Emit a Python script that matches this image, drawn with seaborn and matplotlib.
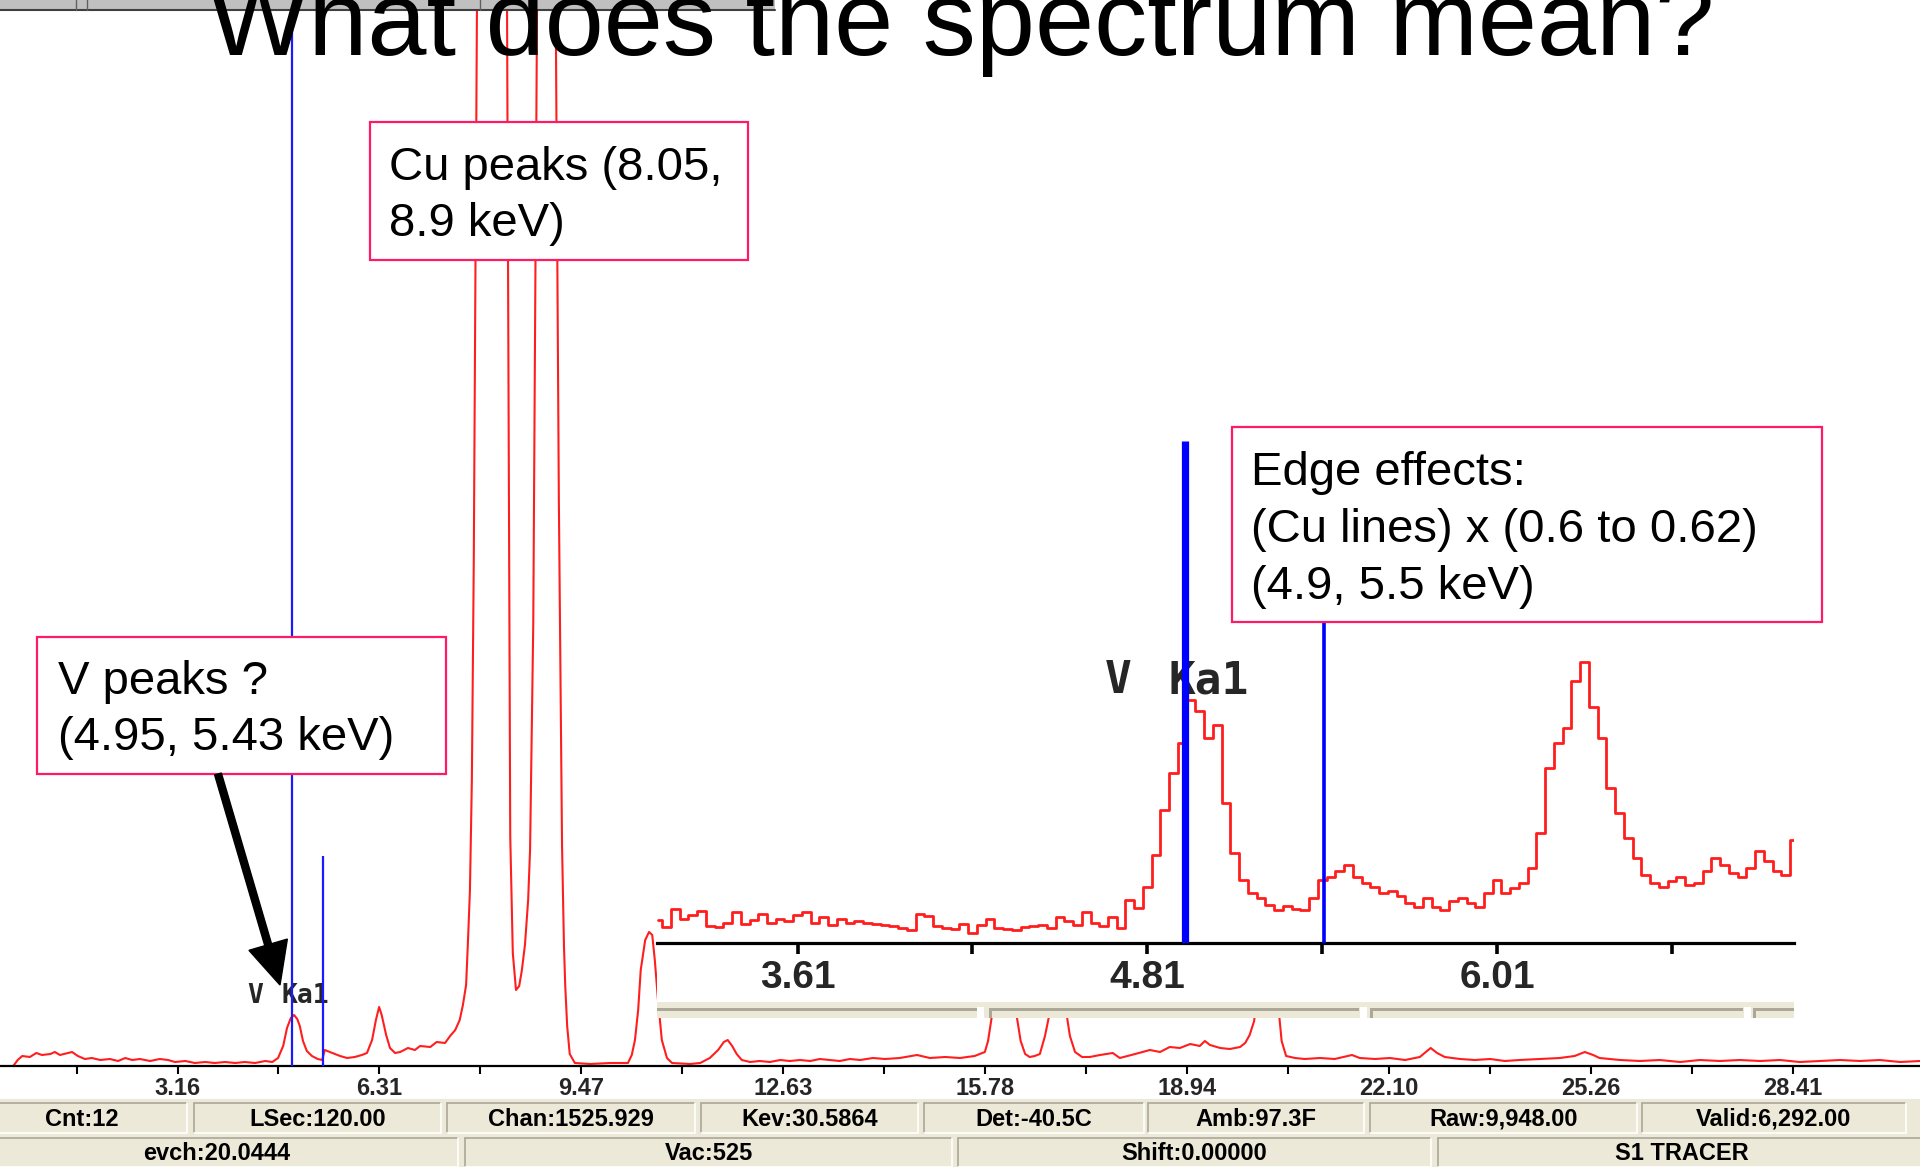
import numpy as np
import matplotlib
matplotlib.use("Agg")
import matplotlib.pyplot as plt
import seaborn as sns
from matplotlib.patches import Rectangle, FancyArrow

# ---------------------------------------------------------------- data
title_text = "What does the spectrum mean?"

# main spectrum (energy in keV, counts in arbitrary units)
main_kev = [
    0.59, 0.66, 0.73, 0.85, 0.95, 1.04, 1.17, 1.24, 1.32, 1.45,
    1.51, 1.60, 1.71, 1.82, 1.95, 2.10, 2.23, 2.34, 2.45, 2.57,
    2.73, 2.88, 3.01, 3.12, 3.28, 3.43, 3.59, 3.74, 3.90, 4.06,
    4.21, 4.37, 4.53, 4.64, 4.73, 4.81, 4.87, 4.93, 4.98, 5.03,
    5.07, 5.12, 5.18, 5.26, 5.35, 5.42, 5.46, 5.54, 5.70, 5.81,
    5.93, 6.04, 6.12, 6.20, 6.26, 6.31, 6.35, 6.42, 6.48, 6.56,
    6.64, 6.76, 6.87, 6.95, 7.11, 7.21, 7.34, 7.42, 7.50, 7.57,
    7.62, 7.67, 7.70, 7.73, 7.76, 7.79, 7.84, 7.89, 7.95, 8.01,
    8.07, 8.14, 8.20, 8.26, 8.31, 8.36, 8.40, 8.45, 8.50, 8.54,
    8.59, 8.64, 8.67, 8.72, 8.78, 8.84, 8.92, 9.00, 9.07, 9.12,
    9.17, 9.20, 9.22, 9.25, 9.29, 9.37, 9.61, 9.92, 10.20, 10.26,
    10.31, 10.36, 10.40, 10.47, 10.53, 10.58, 10.62, 10.67, 10.73, 10.81,
    10.89, 11.17, 11.33, 11.48, 11.61, 11.70, 11.76, 11.83, 11.90, 11.98,
    12.11, 12.26, 12.42, 12.58, 12.73, 12.89, 13.05, 13.20, 13.36, 13.51,
    13.67, 13.83, 14.03, 14.22, 14.45, 14.72, 14.92, 15.16, 15.39, 15.62,
    15.78, 15.83, 15.89, 15.95, 16.02, 16.08, 16.14, 16.20, 16.28, 16.34,
    16.41, 16.48, 16.56, 16.64, 16.72, 16.80, 16.86, 16.92, 16.98, 17.05,
    17.11, 17.19, 17.30, 17.42, 17.58, 17.78, 17.89, 18.13, 18.36, 18.52,
    18.67, 18.83, 18.99, 19.14, 19.22, 19.30, 19.46, 19.61, 19.77, 19.85,
    19.92, 19.99, 20.05, 20.13, 20.22, 20.30, 20.36, 20.42, 20.49, 20.63,
    20.78, 21.02, 21.25, 21.52, 21.64, 21.88, 22.11, 22.35, 22.58, 22.75,
    22.85, 22.97, 23.21, 23.44, 23.68, 23.91, 24.14, 24.46, 24.77, 25.00,
    25.16, 25.29, 25.39, 25.71, 26.02, 26.33, 26.65, 26.96, 27.27, 27.58,
    27.90, 28.21, 28.52, 28.83, 29.15, 29.46, 29.77, 30.09, 30.40,
]
main_counts = [
    0, 6, 10, 9, 13, 11, 12, 14, 11, 13,
    14, 10, 7, 8, 6, 7, 5, 8, 6, 7,
    5, 7, 6, 4, 5, 3, 4, 3, 4, 3,
    4, 3, 5, 4, 8, 20, 38, 48, 51, 47,
    40, 25, 15, 10, 7, 6, 16, 14, 10, 8,
    9, 11, 13, 26, 46, 59, 51, 31, 18, 13,
    14, 18, 16, 20, 19, 24, 23, 30, 36, 46,
    61, 81, 126, 176, 286, 505, 1060, 1930, 3500, 5000,
    5630, 5000, 3500, 1930, 1060, 230, 113, 76, 80, 95,
    121, 166, 216, 442, 1070, 1905, 2550, 2100, 1070, 566,
    220, 120, 80, 40, 12, 3, 2, 3, 3, 11,
    26, 56, 96, 126, 134, 131, 106, 66, 26, 8,
    3, 2, 3, 8, 16, 24, 26, 20, 12, 6,
    4, 5, 4, 6, 5, 6, 5, 7, 6, 5,
    7, 6, 8, 7, 8, 11, 8, 9, 8, 10,
    14, 25, 50, 90, 130, 150, 135, 95, 49, 25,
    12, 9, 10, 12, 30, 55, 70, 75, 70, 55,
    30, 14, 9, 9, 11, 13, 8, 12, 16, 14,
    19, 18, 22, 20, 25, 21, 18, 17, 19, 23,
    31, 45, 80, 115, 125, 105, 65, 25, 10, 8,
    7, 8, 7, 11, 8, 7, 8, 6, 9, 18,
    13, 9, 7, 6, 7, 5, 6, 7, 8, 10,
    14, 11, 8, 6, 5, 6, 4, 6, 5, 6,
    5, 6, 4, 5, 6, 5, 6, 4, 5,
]

# zoomed (inset) spectrum: channels of 0.03 keV starting at 3.13 keV
inset_start_kev = 3.13
inset_evch_kev = 0.03
inset_counts = [
    23, 16, 34, 24, 28, 32, 17, 16, 20, 31,
    19, 23, 29, 20, 24, 22, 28, 31, 20, 26,
    18, 24, 20, 22, 20, 19, 18, 17, 15, 13,
    29, 27, 17, 15, 14, 19, 10, 18, 24, 15,
    14, 13, 16, 17, 18, 15, 26, 22, 18, 31,
    20, 17, 26, 15, 43, 35, 56, 88, 133, 170,
    200, 243, 232, 205, 218, 140, 90, 63, 50, 45,
    38, 33, 37, 34, 33, 45, 63, 66, 72, 78,
    66, 60, 56, 50, 52, 47, 40, 36, 45, 36,
    33, 42, 45, 40, 36, 50, 63, 50, 55, 60,
    75, 110, 175, 200, 215, 262, 281, 236, 205, 155,
    130, 105, 85, 68, 60, 56, 62, 66, 58, 60,
    72, 85, 78, 70, 66, 75, 92, 82, 72, 68,
    103,
]

main_tick_values = [3.16, 6.31, 9.47, 12.63, 15.78, 18.94, 22.10, 25.26, 28.41]
main_tick_labels = ["3.16", "6.31", "9.47", "12.63", "15.78", "18.94", "22.10", "25.26", "28.41"]
main_minor_ticks = [1.58, 4.73, 7.89, 11.05, 14.20, 17.36, 20.52, 23.68, 26.83]

inset_tick_values = [3.61, 4.81, 6.01]
inset_tick_labels = ["3.61", "4.81", "6.01"]
inset_minor_ticks = [4.21, 5.41, 6.61]

v_lines_main = [4.95, 5.43]
v_lines_main_top = [1066, 210]
v_lines_inset = [4.94, 5.415]

cu_text = "Cu peaks (8.05,\n8.9 keV)"
edge_text = "Edge effects:\n(Cu lines) x (0.6 to 0.62)\n(4.9, 5.5 keV)"
v_text = "V peaks ?\n(4.95, 5.43 keV)"
line_label_elem = "V"
line_label_line = "Ka1"

status_row1 = ["Cnt:12", "LSec:120.00", "Chan:1525.929", "Kev:30.5864",
               "Det:-40.5C", "Amb:97.3F", "Raw:9,948.00", "Valid:6,292.00"]
status_row2 = ["evch:20.0444", "Vac:525", "Shift:0.00000", "S1 TRACER"]

assert len(main_kev) == len(main_counts)

# ---------------------------------------------------------------- style
sns.set_theme(style="white")
plt.rcParams["font.family"] = ["Liberation Sans", "DejaVu Sans"]
SANS = ["Liberation Sans", "DejaVu Sans"]
MONO = ["DejaVu Sans Mono"]

W, H = 1920, 1167
fig = plt.figure(figsize=(W / 100, H / 100), dpi=100)
fig.patch.set_facecolor("white")


def px_rect(x0, y0, x1, y1):
    return [x0 / W, 1 - y1 / H, (x1 - x0) / W, (y1 - y0) / H]


RED = "#ff1e1e"
BLUE = "#1a1aff"
PINK = "#ff1a66"
BEIGE = "#ece9d8"

# ---------------------------------------------------------------- main spectrum
ax = fig.add_axes(px_rect(0, 0, 1920, 1066))
ax.set_zorder(1)
ax.patch.set_visible(False)
ax.set_xlim(0.383, 30.40)
ax.set_ylim(0, 1066)
sns.lineplot(x=main_kev, y=main_counts, ax=ax, color=RED, linewidth=1.5,
             sort=False, estimator=None, zorder=2)
for xv, top in zip(v_lines_main, v_lines_main_top):
    ax.vlines(xv, 0, top, color=BLUE, linewidth=1.6, zorder=4)
ax.text(4.244, 63, line_label_elem, family=MONO, fontweight="bold", fontsize=19,
        ha="left", va="baseline", zorder=3)
ax.text(4.791, 63, line_label_line, family=MONO, fontweight="bold", fontsize=19,
        ha="left", va="baseline", zorder=3)
for s in ["left", "right", "top"]:
    ax.spines[s].set_visible(False)
ax.spines["bottom"].set_color("black")
ax.spines["bottom"].set_linewidth(1.6)
ax.set_yticks([])
ax.set_xticks(main_tick_values)
ax.set_xticklabels(main_tick_labels, fontsize=17, fontweight="bold", family=SANS)
ax.set_xticks(main_minor_ticks, minor=True)
ax.tick_params(axis="x", which="both", direction="out", length=5.5, width=1.5,
               color="black", pad=2.5, bottom=True)
ax.set_xlabel("")
ax.set_ylabel("")
# white panel behind the zoomed inset
ax.add_patch(Rectangle((657 / W, 1 - 1018 / H), (1794 - 657) / W, (1018 - 430) / H,
                       transform=fig.transFigure, facecolor="white", edgecolor="none",
                       zorder=6, clip_on=False))

# ---------------------------------------------------------------- inset (zoom)
axi = fig.add_axes(px_rect(657, 441, 1794, 943))
axi.set_zorder(2)
axi.patch.set_visible(False)
inset_kev = inset_start_kev + inset_evch_kev * np.arange(len(inset_counts))
axi.set_xlim(3.1276, 7.0286)
axi.set_ylim(0, 502)
sns.lineplot(x=inset_kev, y=inset_counts, ax=axi, color=RED, linewidth=2.0,
             drawstyle="steps-mid", sort=False, estimator=None, zorder=2)
axi.vlines(v_lines_inset[0], 0, 502, color="#0000ff", linewidth=5.2, zorder=4)
axi.vlines(v_lines_inset[1], 0, 502, color="#0000ff", linewidth=2.6, zorder=4)
axi.text(4.665, 250, line_label_elem, family=MONO, fontweight="bold", fontsize=32,
         ha="left", va="baseline", zorder=3)
axi.text(4.884, 250, line_label_line, family=MONO, fontweight="bold", fontsize=32,
         ha="left", va="baseline", zorder=3)
for s in ["left", "right", "top"]:
    axi.spines[s].set_visible(False)
axi.spines["bottom"].set_color("black")
axi.spines["bottom"].set_linewidth(2.3)
axi.set_yticks([])
axi.set_xticks(inset_tick_values)
axi.set_xticklabels(inset_tick_labels, fontsize=28, fontweight="bold", family=SANS)
axi.set_xticks(inset_minor_ticks, minor=True)
axi.tick_params(axis="x", which="both", direction="out", length=8, width=2.6,
                color="black", pad=4, bottom=True)
axi.set_xlabel("")
axi.set_ylabel("")

# ---------------------------------------------------------------- overlay (slide decorations)
ov = fig.add_axes([0, 0, 1, 1])
ov.set_zorder(3)
ov.patch.set_visible(False)
ov.set_xlim(0, W)
ov.set_ylim(H, 0)
ov.axis("off")

# toolbar strip at the top
ov.add_patch(Rectangle((0, 0), 775, 10, facecolor="#c0c0c0", edgecolor="none"))
ov.plot([0, 775], [10, 10], color="#404040", linewidth=1.5)
for xs in [76, 87, 480]:
    ov.plot([xs, xs], [0, 10], color="#606060", linewidth=1.0)

# title (cut off by the top edge, as in the original slide)
ov.text(208, 55, title_text, fontsize=76.5, family=SANS, ha="left", va="baseline",
        color="black")

# scroll strip under the inset
ov.add_patch(Rectangle((657, 1002), 1137, 16, facecolor=BEIGE, edgecolor="none"))
for a, b in [(657, 977), (989, 1359), (1370, 1743), (1753, 1794)]:
    ov.add_patch(Rectangle((a, 1007.5), b - a, 3, facecolor="#aca899", edgecolor="none"))
for g in [977, 1360, 1744]:
    ov.add_patch(Rectangle((g, 1007), 7, 11, facecolor="white", edgecolor="none"))
for v in [989, 1370, 1753]:
    ov.add_patch(Rectangle((v, 1008), 2.5, 10, facecolor="#aca899", edgecolor="none"))

# annotation boxes
boxes = [
    ((370, 122, 748, 260), cu_text, 389, 196),
    ((1232, 427, 1822, 622), edge_text, 1251, 530),
    ((37, 637, 446, 774), v_text, 58, 710),
]
for (x0, y0, x1, y1), txt, tx, ty in boxes:
    ov.add_patch(Rectangle((x0, y0), x1 - x0, y1 - y0, facecolor="white",
                           edgecolor=PINK, linewidth=1.6))
    ov.text(tx, ty, txt, fontsize=34, family=SANS, ha="left", va="center",
            color="black", linespacing=1.37)

# arrow to the V peak
ov.add_patch(FancyArrow(218, 774, 62, 211, width=7, head_width=40, head_length=42,
                        length_includes_head=True, color="black"))

# status bar
ov.add_patch(Rectangle((0, 1099), W, H - 1099, facecolor=BEIGE, edgecolor="none"))
row1_boxes = [(-24, 187), (194, 441), (447, 695), (701, 918), (924, 1144),
              (1148, 1364), (1370, 1637), (1642, 1906)]
row2_boxes = [(-24, 458), (465, 952), (958, 1431), (1438, 1925)]


def status_box(x0, x1, y0, y1, txt):
    ov.plot([x0, x1], [y0, y0], color="#aca899", linewidth=1.2)
    ov.plot([x0, x0], [y0, y1], color="#aca899", linewidth=1.2)
    ov.plot([x0, x1], [y1, y1], color="white", linewidth=1.2)
    ov.plot([x1, x1], [y0, y1], color="white", linewidth=1.2)
    ov.text((x0 + x1) / 2, (y0 + y1) / 2 + 1, txt, fontsize=17, fontweight="bold",
            family=SANS, ha="center", va="center", color="black")


for (x0, x1), txt in zip(row1_boxes, status_row1):
    status_box(x0, x1, 1103, 1133, txt)
for (x0, x1), txt in zip(row2_boxes, status_row2):
    status_box(x0, x1, 1138, 1167, txt)

fig.savefig("out.png", dpi=100, facecolor="white")
